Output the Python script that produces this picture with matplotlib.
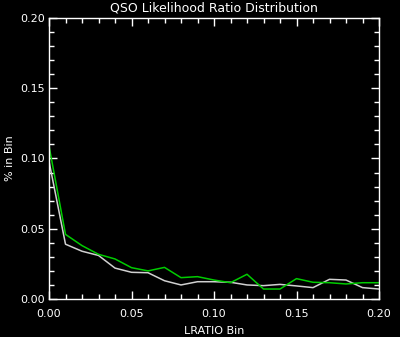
import numpy as np
import matplotlib
matplotlib.use("Agg")
import matplotlib.pyplot as plt
from matplotlib.ticker import MultipleLocator

# likelihood ratio bins and the two distributions (fraction in bin)
lratio_bin = [0.00, 0.01, 0.02, 0.03, 0.04, 0.05, 0.06, 0.07, 0.08, 0.09, 0.10,
              0.11, 0.12, 0.13, 0.14, 0.15, 0.16, 0.17, 0.18, 0.19, 0.20]
frac_white = [0.098, 0.039, 0.034, 0.031, 0.022, 0.019, 0.0187, 0.013, 0.010, 0.0123, 0.0123,
              0.0119, 0.010, 0.0095, 0.0104, 0.0093, 0.0081, 0.014, 0.0135, 0.0081, 0.0071]
frac_green = [0.109, 0.046, 0.038, 0.0318, 0.0285, 0.0223, 0.020, 0.0225, 0.0152, 0.0159, 0.0135,
              0.0116, 0.0176, 0.0071, 0.0071, 0.0145, 0.0119, 0.0116, 0.0107, 0.0116, 0.0116]

fg = "white"
fig = plt.figure(figsize=(4.0, 3.37), dpi=100, facecolor="black")
ax = fig.add_axes([49 / 400, 1 - 299 / 337, 330 / 400, 281 / 337])
ax.set_facecolor("black")

ax.plot(lratio_bin, frac_white, color="#d0d0d0", lw=1.1)
ax.plot(lratio_bin, frac_green, color="#00cc00", lw=1.1)

ax.set_xlim(0, 0.2)
ax.set_ylim(0, 0.2)
ax.xaxis.set_major_locator(MultipleLocator(0.05))
ax.xaxis.set_minor_locator(MultipleLocator(0.01))
ax.yaxis.set_major_locator(MultipleLocator(0.05))
ax.yaxis.set_minor_locator(MultipleLocator(0.01))
ax.xaxis.set_major_formatter(lambda v, p: f"{v:.2f}")
ax.yaxis.set_major_formatter(lambda v, p: f"{v:.2f}")

for s in ax.spines.values():
    s.set_color(fg)
    s.set_linewidth(1.0)
ax.tick_params(which="both", direction="in", top=True, right=True, colors=fg,
               labelsize=8, width=1.0)
ax.tick_params(which="major", length=6)
ax.tick_params(which="minor", length=3.5)
ax.tick_params(axis="x", which="major", pad=7)
ax.tick_params(axis="y", which="major", pad=3)

ax.set_title("QSO Likelihood Ratio Distribution", color=fg, fontsize=9, pad=5)
ax.set_xlabel("LRATIO Bin", color=fg, fontsize=8)
ax.set_ylabel("% in Bin", color=fg, fontsize=8)
ax.xaxis.set_label_coords(0.5, -0.095)
ax.yaxis.set_label_coords(-0.103, 0.5)

fig.savefig("out.png", dpi=100, facecolor="black")
